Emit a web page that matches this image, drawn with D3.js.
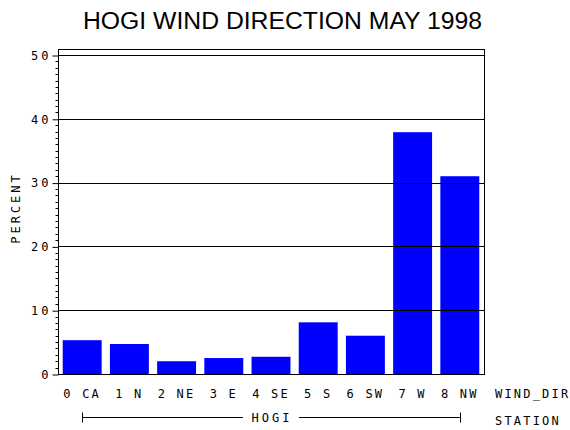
<!DOCTYPE html>
<html>
<head>
<meta charset="utf-8">
<script src="https://cdn.jsdelivr.net/npm/d3@7"></script>
<style>
  body { margin: 0; background: #fff; }
  text { fill: #000; }
</style>
</head>
<body>
<div id="chart"></div>
<script>
// chart data
const windDirs = ["0 CA", "1 N", "2 NE", "3 E", "4 SE", "5 S", "6 SW", "7 W", "8 NW"];
const percents = [5.3, 4.7, 2.0, 2.5, 2.7, 8.1, 6.0, 37.9, 31.0];
const yTicks = [0, 10, 20, 30, 40, 50];
const stationName = "HOGI";
const titleText = "HOGI WIND DIRECTION MAY 1998";

const width = 570, height = 430;
const plotLeft = 58, plotRight = 484, plotBottom = 374, plotTop = 55;
const mono = "'DejaVu Sans Mono', monospace";

const svg = d3.select("#chart").append("svg")
  .attr("width", width)
  .attr("height", height)
  .style("display", "block");

const x = d3.scaleBand()
  .domain(windDirs)
  .range([plotLeft, plotRight])
  .paddingInner(0.175)
  .paddingOuter(0.1);

const y = d3.scaleLinear()
  .domain([0, 50])
  .range([plotBottom, plotTop]);

// title
svg.append("text")
  .attr("x", 282.5)
  .attr("y", 29)
  .attr("text-anchor", "middle")
  .attr("textLength", 399)
  .attr("lengthAdjust", "spacingAndGlyphs")
  .style("font-family", "'Liberation Sans', Arial, sans-serif")
  .style("font-size", "23px")
  .text(titleText);

// bars
svg.append("g")
  .selectAll("rect")
  .data(percents)
  .join("rect")
  .attr("x", (d, i) => x(windDirs[i]))
  .attr("y", d => y(d))
  .attr("width", x.bandwidth())
  .attr("height", d => y(0) - y(d))
  .attr("fill", "#0000ff");

// reference lines, drawn over the bars
svg.append("g")
  .selectAll("line")
  .data(yTicks.filter(t => t > 0))
  .join("line")
  .attr("x1", plotLeft)
  .attr("x2", plotRight)
  .attr("y1", d => Math.round(y(d)) + 0.5)
  .attr("y2", d => Math.round(y(d)) + 0.5)
  .attr("stroke", "#000")
  .attr("stroke-width", 1);

// frame
const frameTop = Math.round(y(50)) - 6;
svg.append("rect")
  .attr("x", plotLeft + 0.5)
  .attr("y", frameTop + 0.5)
  .attr("width", plotRight - plotLeft)
  .attr("height", plotBottom - frameTop)
  .attr("fill", "none")
  .attr("stroke", "#000")
  .attr("stroke-width", 1);

// y axis with minor ticks
const yAxis = d3.axisLeft(y)
  .tickValues(yTicks)
  .tickSize(6)
  .tickPadding(4)
  .tickFormat(d3.format("d"));

const yg = svg.append("g")
  .attr("transform", `translate(${plotLeft + 0.5},0.5)`)
  .call(yAxis);
yg.select(".domain").remove();
yg.selectAll("text")
  .style("font-family", mono)
  .style("font-size", "12px")
  .style("letter-spacing", "3px")
  .attr("dx", "3px");

const minor = d3.range(0, 51).filter(v => v % 10 !== 0);
svg.append("g")
  .attr("transform", `translate(${plotLeft + 0.5},0.5)`)
  .selectAll("line")
  .data(minor)
  .join("line")
  .attr("x1", -3)
  .attr("x2", 0)
  .attr("y1", d => Math.round(y(d)))
  .attr("y2", d => Math.round(y(d)))
  .attr("stroke", "#000");

// x axis labels
const xg = svg.append("g")
  .attr("transform", `translate(0,${plotBottom})`)
  .call(d3.axisBottom(x).tickSize(0).tickPadding(15));
xg.select(".domain").remove();
xg.selectAll("text")
  .style("font-family", mono)
  .style("font-size", "12px")
  .style("letter-spacing", "2.2px");

// y axis title
svg.append("text")
  .attr("transform", "translate(20,208) rotate(-90)")
  .attr("text-anchor", "middle")
  .style("font-family", mono)
  .style("font-size", "12px")
  .style("letter-spacing", "3px")
  .text("PERCENT");

// category variable name
svg.append("text")
  .attr("x", 495)
  .attr("y", 398)
  .style("font-family", mono)
  .style("font-size", "12px")
  .style("letter-spacing", "2.2px")
  .text("WIND_DIR");

svg.append("text")
  .attr("x", 495)
  .attr("y", 425)
  .style("font-family", mono)
  .style("font-size", "12px")
  .style("letter-spacing", "2.2px")
  .text("STATION");

// station bracket
const bx1 = x(windDirs[0]) + x.bandwidth() / 2;
const bx2 = x(windDirs[windDirs.length - 1]) + x.bandwidth() / 2;
const bmid = (bx1 + bx2) / 2;
const by = 417.5;

const bracket = svg.append("g").attr("stroke", "#000");
bracket.append("line").attr("x1", bx1).attr("x2", bmid - 28).attr("y1", by).attr("y2", by);
bracket.append("line").attr("x1", bmid + 28).attr("x2", bx2).attr("y1", by).attr("y2", by);
bracket.append("line").attr("x1", Math.round(bx1) + 0.5).attr("x2", Math.round(bx1) + 0.5).attr("y1", by - 5).attr("y2", by + 5);
bracket.append("line").attr("x1", Math.round(bx2) + 0.5).attr("x2", Math.round(bx2) + 0.5).attr("y1", by - 5).attr("y2", by + 5);

svg.append("text")
  .attr("x", bmid + 1)
  .attr("y", by + 4)
  .attr("text-anchor", "middle")
  .style("font-family", mono)
  .style("font-size", "12px")
  .style("letter-spacing", "3px")
  .text(stationName);
</script>
</body>
</html>
